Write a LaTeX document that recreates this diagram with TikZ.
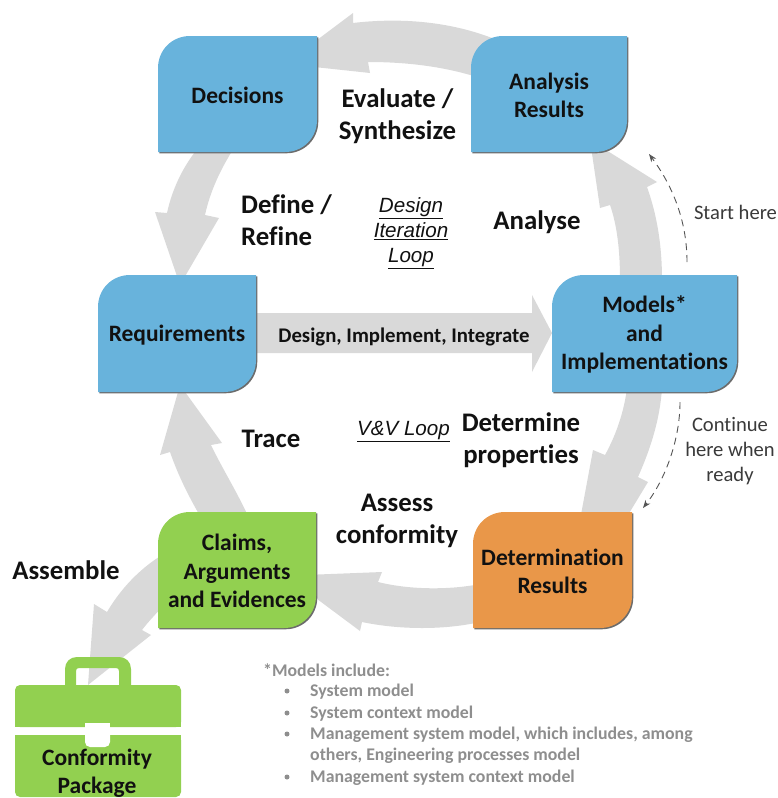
\documentclass[tikz,border=0pt]{standalone}
\usepackage{fontspec}
\setmainfont[Ligatures=NoCommon]{Carlito}
\newfontfamily\arialfont{Liberation Sans}
\usetikzlibrary{arrows.meta}
\definecolor{flow}{HTML}{D9D9D9}
\definecolor{bluebox}{HTML}{68B3DC}
\definecolor{greenbox}{HTML}{92D050}
\definecolor{orangebox}{HTML}{E99749}
\definecolor{inktext}{HTML}{111111}
\definecolor{notegrey}{HTML}{8E8E8E}
\definecolor{dashgrey}{HTML}{555555}
\definecolor{hintgrey}{HTML}{3A3A3A}
\newcommand{\stagebox}[7]{%
  \fill[gray!85!black,shift={(1.3,1.3)}] ({#1+32},#2) -- (#3,#2) -- (#3,{#4-32}) .. controls (#3,{#4-14}) and ({#3-14},#4) .. ({#3-32},#4) -- (#1,#4) -- (#1,{#2+32}) .. controls (#1,{#2+14}) and ({#1+14},#2) .. ({#1+32},#2) -- cycle;
  \fill[#5] ({#1+32},#2) -- (#3,#2) -- (#3,{#4-32}) .. controls (#3,{#4-14}) and ({#3-14},#4) .. ({#3-32},#4) -- (#1,#4) -- (#1,{#2+32}) .. controls (#1,{#2+14}) and ({#1+14},#2) .. ({#1+32},#2) -- cycle;
  \node[stagetext] (#6) at ({(#1+#3)/2},{(#2+#4)/2+1.2}) {#7};
}
\tikzset{
  x=1pt,y=-1pt,
  flowarrow/.style={fill=flow},
  stagetext/.style={align=center,font=\bfseries\fontsize{23.5}{28.5}\selectfont,text=inktext,inner sep=0pt},
  biglabel/.style={align=center,font=\bfseries\fontsize{26.8}{32}\selectfont,text=inktext,inner sep=0pt},
  looplabel/.style={align=center,font=\arialfont\itshape\fontsize{20.6}{25}\selectfont,text=inktext,inner sep=0pt},
  hint/.style={align=center,font=\fontsize{20.6}{25}\selectfont,text=hintgrey,inner sep=0pt},
  note/.style={anchor=west,font=\bfseries\fontsize{17.8}{18}\selectfont,text=notegrey,inner sep=0pt},
  notedot/.style={circle,fill=notegrey,inner sep=0pt,minimum size=5pt},
  hintline/.style={draw=dashgrey,line width=0.9pt,dash pattern=on 7pt off 5pt,-{Stealth[length=8pt,width=6pt]}}
}
\begin{document}
\begin{tikzpicture}
\useasboundingbox (0,0) rectangle (778,798);
% flow arrows
\fill[flowarrow] (492,38) .. controls (445,20) and (395,18) .. (353,23) -- (353,13) -- (305,49) -- (305,66) -- (370,73) -- (368,62) .. controls (400,62) and (440,65) .. (480,78) -- cycle;
\fill[flowarrow] (198,148) .. controls (182,168) and (172,190) .. (167,213) -- (155,212) -- (180,285) -- (219,218) -- (205,215) .. controls (210,192) and (220,170) .. (234,148) -- cycle;
\fill[flowarrow] (256,313) -- (532,313) -- (532,295) -- (552,333) -- (532,372) -- (532,353) -- (256,353) -- cycle;
\fill[flowarrow] (620,280) .. controls (620,250) and (617,225) .. (610,205) -- (600,208) -- (590,140) -- (657,182) -- (647,187) .. controls (657,215) and (662,245) .. (662,280) -- cycle;
\fill[flowarrow] (627,388) .. controls (624,412) and (616,435) .. (605,455) -- (593,450) -- (580,520) -- (625,520) -- (648,482) -- (638,477) .. controls (650,450) and (660,420) .. (662,388) -- cycle;
\fill[flowarrow] (480,584) .. controls (450,590) and (410,590) .. (378,582) -- (382,572) -- (305,575) -- (305,590) -- (360,631) -- (362,622) .. controls (400,630) and (445,630) .. (480,622) -- cycle;
\fill[flowarrow] (248,516) .. controls (236,490) and (222,468) .. (211,445) -- (222,443) -- (180,385) -- (160,455) -- (170,452) .. controls (178,475) and (188,495) .. (200,516) -- cycle;
\fill[flowarrow] (162,555) .. controls (138,570) and (120,590) .. (107,612) -- (94,604) -- (88,685) -- (151,635) -- (142,630) .. controls (148,622) and (155,615) .. (162,607) -- cycle;
% stage boxes
\stagebox{158}{36}{317}{152}{bluebox}{decisions}{Decisions}
\stagebox{471}{36}{627}{152}{bluebox}{analysis}{Analysis\\Results}
\stagebox{98}{275}{256}{392}{bluebox}{requirements}{Requirements}
\stagebox{552}{275}{737}{392}{bluebox}{models}{Models*\\and\\Implementations}
\stagebox{473}{512}{632}{628}{orangebox}{determination}{Determination\\Results}
\stagebox{158}{512}{316}{628}{greenbox}{claims}{Claims,\\Arguments\\and Evidences}
% briefcase
\fill[greenbox] (65,690) -- (65,669) .. controls (65,662) and (70,657) .. (77,657) -- (119,657) .. controls (126,657) and (131,662) .. (131,669) -- (131,690) -- (119,690) -- (119,671) .. controls (119,669) and (118,668) .. (116,668) -- (79,668) .. controls (77,668) and (76,669) .. (76,671) -- (76,690) -- cycle;
\fill[greenbox,rounded corners=5pt] (15,727) -- (15,685) -- (181,685) -- (181,727) -- cycle;
\fill[greenbox] (15,700) rectangle (181,727);
\fill[greenbox,rounded corners=5pt] (15,735) -- (181,735) -- (181,797) -- (15,797) -- cycle;
\fill[greenbox] (15,735) rectangle (181,760);
\fill[white,rounded corners=5pt] (85,723) -- (110,723) -- (110,747) -- (85,747) -- cycle;
\fill[white] (85,723) rectangle (110,735);
\node[stagetext] (package) at (97,773.2) {Conformity\\Package};
% labels
\node[biglabel] (evaluate) at (397.5,116.5) {Evaluate /\\Synthesize};
\node[biglabel,align=left,anchor=west] (define) at (241,220.5) {Define /\\Refine};
\node[biglabel] (analyse) at (537,222) {Analyse};
\node[biglabel] (trace) at (271,439) {Trace};
\node[biglabel] (determine) at (521,440) {Determine\\properties};
\node[biglabel] (assess) at (397,520.5) {Assess\\conformity};
\node[biglabel] (assemble) at (66,570.5) {Assemble};
\node[looplabel] (loop) at (411,233.5) {\underline{Design}\\\underline{Iteration}\\\underline{Loop}};
\node[looplabel] (vv) at (403.5,431.5) {\underline{V\&V Loop}};
\node[align=center,font=\bfseries\fontsize{20.8}{22}\selectfont,text=inktext,inner sep=0pt] (dii) at (404,336.5) {Design, Implement, Integrate};
\node[hint] (start) at (735.5,212.5) {Start here};
\node[hint] (continue) at (730,451) {Continue\\here when\\ready};
% dashed hints
\coordinate (startA) at (687,262);
\coordinate (startB) at (649,154);
\coordinate (contA) at (680,402);
\coordinate (contB) at (643,508);
\draw[hintline] (startA) .. controls (687,220) and (672,185) .. (startB);
\draw[hintline] (contA) .. controls (680,440) and (665,480) .. (contB);
% note
\node[note] (n0) at (263,670.5) {*Models include:};
\node[notedot] (d1) at (287,691) {};
\node[note] (n1) at (310,692) {System model};
\node[notedot] (d2) at (287,713) {};
\node[note] (n2) at (310,714) {System context model};
\node[notedot] (d3) at (287,734) {};
\node[note] (n3) at (310,735) {Management system model, which includes, among};
\node[note] (n3b) at (310,756) {others, Engineering processes model};
\node[notedot] (d4) at (287,777) {};
\node[note] (n4) at (310,778) {Management system context model};
\end{tikzpicture}
\end{document}
